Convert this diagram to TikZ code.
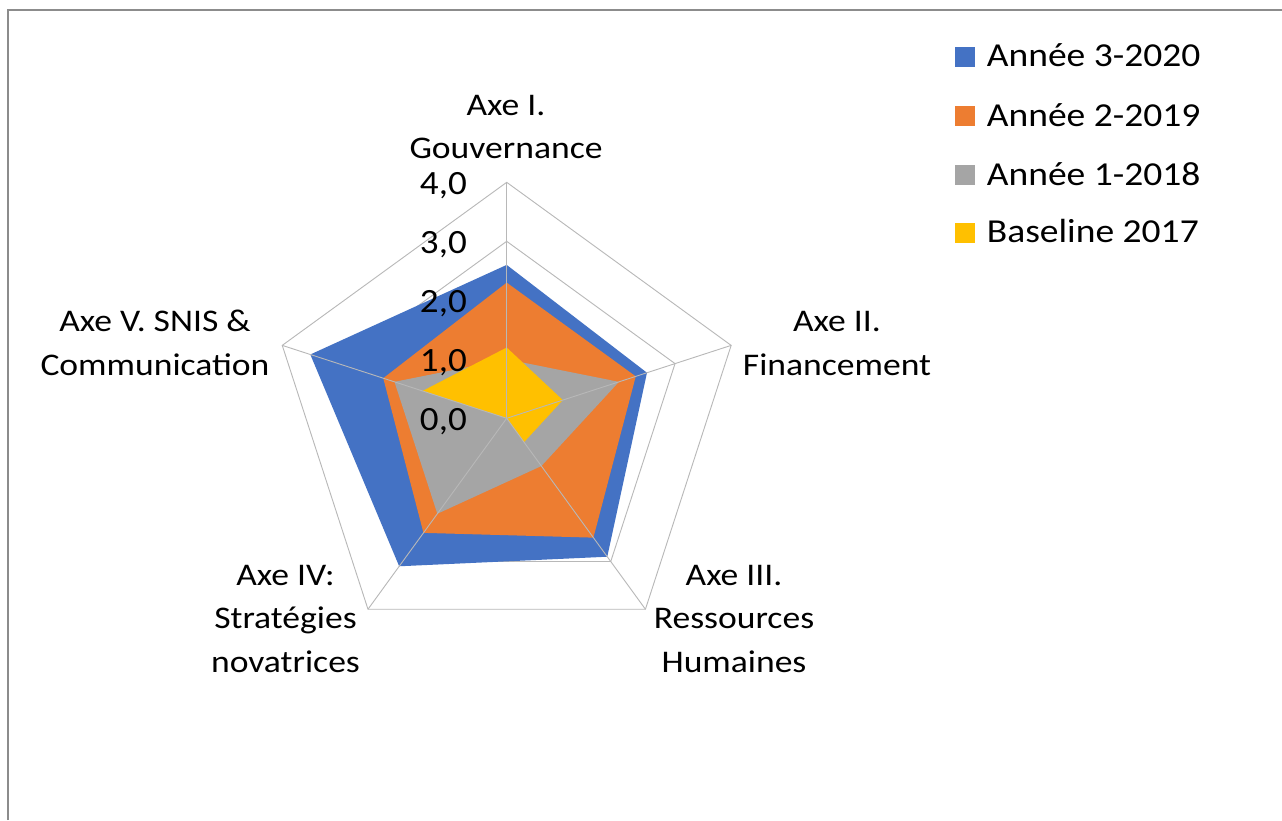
\documentclass[tikz,border=0pt]{standalone}
\usepackage{fontspec}
\setmainfont{Carlito}
\definecolor{cblue}{HTML}{4472C4}
\definecolor{corange}{HTML}{ED7D31}
\definecolor{cgray}{HTML}{A5A5A5}
\definecolor{cyellow}{HTML}{FFC000}
\definecolor{gridc}{HTML}{B8B8B8}
\definecolor{framec}{HTML}{8C8C8C}
\newcommand\mlab[1]{\scalebox{1.13}[1]{\begin{tabular}[t]{@{}c@{}}#1\end{tabular}}}
\newcommand\tlab[1]{\scalebox{1.09}[1]{#1}}
\newcommand\llab[1]{\scalebox{1.12}[1]{#1}}
\begin{document}
\begin{tikzpicture}[x=1pt,y=-1pt,
  axlabel/.style={inner sep=0pt, anchor=base, font=\fontsize{31.5}{43.5}\selectfont},
  ticklabel/.style={inner sep=0pt, anchor=base east, font=\fontsize{34}{40}\selectfont},
  leglabel/.style={inner sep=0pt, anchor=base west, font=\fontsize{33.5}{40}\selectfont},
  legsq/.style={inner sep=0pt, minimum size=20pt, draw=none},
  gridline/.style={draw=gridc, line width=0.9pt}]
\useasboundingbox (0,0) rectangle (1282,820);
\fill[white] (0,0) rectangle (1282,820);
\draw[framec, line width=1.2pt] (8,820) -- (8,10) -- (1282,10);

\begin{scope}[shift={(506.7,418.3)}, x=59pt, y=-59pt]
  \foreach \r in {1,2,3,4}
    \draw[gridline] (-90:\r) -- (-18:\r) -- (54:\r) -- (126:\r) -- (198:\r) -- cycle;
  \fill[cblue] (-90:2.6) -- (-18:2.5) -- (54:2.9) -- (126:3.1) -- (198:3.5) -- cycle;
  \fill[corange] (-90:2.3) -- (-18:2.3) -- (54:2.5) -- (126:2.4) -- (198:2.2) -- cycle;
  \fill[cgray] (-90:1) -- (-18:2) -- (54:1) -- (126:2) -- (198:2) -- cycle;
  \fill[cyellow] (-90:1.2) -- (-18:1) -- (54:0.5) -- (0,0) -- (198:1.5) -- cycle;
  \foreach \a in {-90,-18,54,126,198}
    \draw[gridline] (0,0) -- (\a:4);
\end{scope}

% tick labels
\node[ticklabel] (t0) at (467,430.8) {\tlab{0,0}};
\node[ticklabel] (t1) at (467,371.8) {\tlab{1,0}};
\node[ticklabel] (t2) at (467,312.8) {\tlab{2,0}};
\node[ticklabel] (t3) at (467,253.8) {\tlab{3,0}};
\node[ticklabel] (t4) at (467,194.8) {\tlab{4,0}};

% axis labels
\node[axlabel] (lI) at (506,115) {\mlab{Axe I.\\Gouvernance}};
\node[axlabel] (lII) at (837,331.7) {\mlab{Axe II.\\Financement}};
\node[axlabel] (lIII) at (734,585) {\mlab{Axe III.\\Ressources\\Humaines}};
\node[axlabel] (lIV) at (285.5,585) {\mlab{Axe IV:\\Stratégies\\novatrices}};
\node[axlabel] (lV) at (155,331.7) {\mlab{Axe V. SNIS \&\\Communication}};

% legend
\node[legsq, fill=cblue] (s1) at (965,56.7) {};
\node[legsq, fill=corange] (s2) at (965,116) {};
\node[legsq, fill=cgray] (s3) at (965,174.5) {};
\node[legsq, fill=cyellow] (s4) at (965,233) {};
\node[leglabel] (g1) at (986.7,66.7) {\llab{Année 3-2020}};
\node[leglabel] (g2) at (986.7,126) {\llab{Année 2-2019}};
\node[leglabel] (g3) at (986.7,185) {\llab{Année 1-2018}};
\node[leglabel] (g4) at (986.7,242.7) {\llab{Baseline 2017}};
\end{tikzpicture}
\end{document}
